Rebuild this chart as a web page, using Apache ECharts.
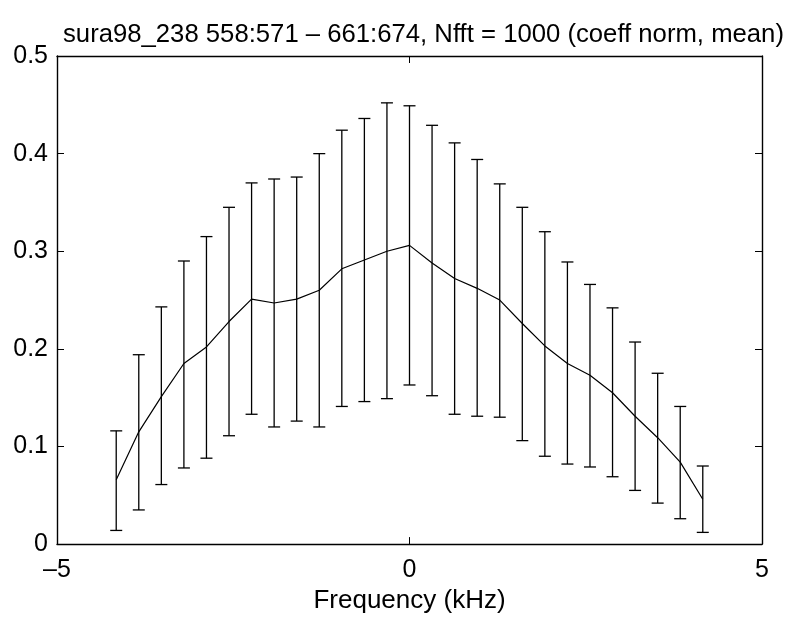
<!DOCTYPE html>
<html>
<head>
<meta charset="utf-8">
<script src="https://cdn.jsdelivr.net/npm/echarts@6/dist/echarts.min.js"></script>
<style>
  html, body { margin: 0; padding: 0; background: #fff; }
  #chart { width: 791px; height: 619px; }
</style>
</head>
<body>
<div id="chart"></div>
<script>
// frequency bins (kHz)
const freq = [-4.16, -3.84, -3.52, -3.2, -2.88, -2.56, -2.24, -1.92, -1.6, -1.28, -0.96, -0.64, -0.32, 0,
  0.32, 0.64, 0.96, 1.28, 1.6, 1.92, 2.24, 2.56, 2.88, 3.2, 3.52, 3.84, 4.16];
// mean coefficient
const meanVals = [0.066, 0.115, 0.151, 0.185, 0.202, 0.228, 0.251, 0.247, 0.251, 0.260, 0.282, 0.291, 0.300, 0.306,
  0.288, 0.272, 0.262, 0.250, 0.226, 0.203, 0.185, 0.173, 0.155, 0.131, 0.109, 0.084, 0.046];
// error bar ends
const upperVals = [0.116, 0.194, 0.243, 0.290, 0.315, 0.345, 0.370, 0.374, 0.376, 0.400, 0.424, 0.436, 0.452, 0.449,
  0.429, 0.411, 0.394, 0.369, 0.345, 0.320, 0.289, 0.266, 0.242, 0.207, 0.175, 0.141, 0.080];
const lowerVals = [0.014, 0.035, 0.061, 0.078, 0.088, 0.111, 0.133, 0.120, 0.126, 0.120, 0.141, 0.146, 0.149, 0.163,
  0.152, 0.133, 0.131, 0.130, 0.106, 0.090, 0.082, 0.079, 0.069, 0.055, 0.042, 0.026, 0.012];

const xTicks = [-5, 0, 5];
const yTicks = [0, 0.1, 0.2, 0.3, 0.4, 0.5];

const font = 'Liberation Sans, Arial, sans-serif';
const chart = echarts.init(document.getElementById('chart'));

const lineData = freq.map((f, i) => [f, meanVals[i]]);
const errData = freq.map((f, i) => [f, lowerVals[i], upperVals[i]]);

// matlab-style minus sign
function fmtX(v) {
  if (xTicks.indexOf(v) < 0) return '';
  return v < 0 ? '\u2013' + Math.abs(v) : String(v);
}

const boxAxis = {
  axisLine: {show: true, onZero: false, lineStyle: {color: '#000', width: 1.4}},
  axisTick: {show: true, inside: true, length: 7, lineStyle: {color: '#000', width: 1}},
  splitLine: {show: false},
};

const option = {
  animation: false,
  backgroundColor: '#fff',
  title: {
    text: 'sura98_238 558:571 \u2013 661:674, Nfft = 1000 (coeff norm, mean)',
    left: 58,
    top: 17,
    textStyle: {fontFamily: font, fontSize: 25.7, fontWeight: 'normal', color: '#000'}
  },
  grid: {left: 57, right: 29, top: 56, bottom: 70},
  xAxis: [
    Object.assign({}, boxAxis, {
      type: 'value', min: -5, max: 5, interval: 5, position: 'bottom',
      name: 'Frequency (kHz)', nameLocation: 'middle', nameGap: 42,
      nameTextStyle: {fontFamily: font, fontSize: 26, color: '#000'},
      axisLabel: {fontFamily: font, fontSize: 25, color: '#000', margin: 14, formatter: fmtX}
    }),
    Object.assign({}, boxAxis, {
      type: 'value', min: -5, max: 5, interval: 5, position: 'top',
      axisLabel: {show: false}
    })
  ],
  yAxis: [
    Object.assign({}, boxAxis, {
      type: 'value', min: 0, max: 0.5, interval: 0.1, position: 'left',
      axisLabel: {fontFamily: font, fontSize: 25, color: '#000', margin: 9,
        formatter: v => yTicks.indexOf(+v.toFixed(1)) >= 0 ? String(+v.toFixed(1)) : ''}
    }),
    Object.assign({}, boxAxis, {
      type: 'value', min: 0, max: 0.5, interval: 0.1, position: 'right',
      axisLabel: {show: false}
    })
  ],
  series: [
    {
      type: 'custom',
      data: errData,
      renderItem: function (params, api) {
        const x = api.value(0);
        const lo = api.coord([x, api.value(1)]);
        const hi = api.coord([x, api.value(2)]);
        const hw = 6;
        const style = {stroke: '#000', lineWidth: 1.3};
        return {
          type: 'group',
          children: [
            {type: 'line', shape: {x1: lo[0], y1: lo[1], x2: hi[0], y2: hi[1]}, style: style},
            {type: 'line', shape: {x1: lo[0] - hw, y1: lo[1], x2: lo[0] + hw, y2: lo[1]}, style: style},
            {type: 'line', shape: {x1: hi[0] - hw, y1: hi[1], x2: hi[0] + hw, y2: hi[1]}, style: style}
          ]
        };
      },
      z: 2
    },
    {
      type: 'line',
      data: lineData,
      showSymbol: false,
      lineStyle: {color: '#000', width: 1.2},
      z: 3
    }
  ]
};

chart.setOption(option);
</script>
</body>
</html>
